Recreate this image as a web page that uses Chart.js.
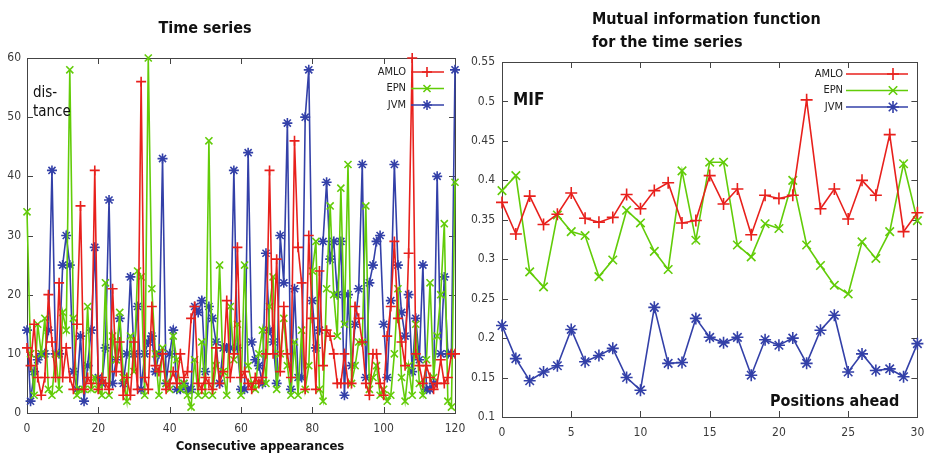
<!DOCTYPE html>
<html>
<head>
<meta charset="utf-8">
<script src="https://cdn.jsdelivr.net/npm/chart.js@4.4.1/dist/chart.umd.min.js"></script>
<style>
    html, body { margin: 0; padding: 0; background: #fff; }
    #wrap { position: relative; width: 925px; height: 454px; overflow: hidden; }
    .box { position: absolute; top: 0; height: 454px; }
    #leftBox { left: 0; width: 472px; }
    #rightBox { left: 462px; width: 463px; }
</style>
</head>
<body>
<div id="wrap">
    <div class="box" id="leftBox"><canvas id="tsChart"></canvas></div>
    <div class="box" id="rightBox"><canvas id="mifChart"></canvas></div>
</div>
<script>
// series names
var seriesNames = ['AMLO', 'EPN', 'JVM'];

// time series (x = 0..120, consecutive appearances)
var amloDist = [11, 8, 15, 6, 3, 6, 20, 12, 6, 22, 6, 11, 6, 4, 15, 35, 4, 6, 5, 41,
    4, 6, 5, 4, 21, 7, 12, 3, 6, 3, 12, 4, 56, 6, 4, 18, 8, 7, 10, 4,
    5, 7, 5, 10, 6, 7, 16, 18, 5, 4, 6, 5, 4, 11, 5, 7, 19, 6, 10, 28,
    6, 7, 5, 4, 6, 5, 6, 10, 41, 10, 26, 7, 18, 10, 6, 46, 28, 22, 4, 30,
    16, 4, 24, 8, 14, 13, 10, 5, 5, 10, 5, 5, 18, 16, 12, 5, 3, 10, 10, 5,
    3, 13, 18, 29, 16, 12, 8, 27, 60, 10, 8, 5, 8, 6, 4, 5, 9, 5, 6, 10, 10];
var epnDist = [34, 10, 3, 15, 10, 16, 4, 3, 10, 4, 17, 14, 58, 16, 3, 4, 4, 18, 4, 6,
    4, 3, 22, 3, 13, 9, 17, 6, 2, 13, 7, 24, 23, 3, 60, 21, 10, 3, 11, 5,
    4, 13, 9, 4, 5, 3, 1, 9, 3, 12, 3, 46, 3, 8, 25, 7, 3, 18, 9, 15,
    3, 25, 8, 5, 4, 10, 14, 5, 18, 23, 4, 10, 16, 8, 3, 12, 3, 14, 4, 8,
    24, 29, 4, 2, 21, 35, 20, 13, 38, 15, 42, 5, 8, 12, 12, 35, 4, 6, 8, 3,
    4, 2, 3, 10, 21, 6, 2, 8, 3, 15, 5, 3, 9, 22, 6, 13, 20, 32, 2, 1, 39];
var jvmDist = [14, 2, 7, 9, 10, 10, 14, 41, 10, 10, 25, 30, 25, 7, 4, 13, 2, 8, 14, 28,
    6, 5, 11, 36, 5, 9, 16, 5, 10, 23, 10, 18, 4, 10, 12, 13, 7, 10, 43, 5,
    10, 14, 4, 4, 5, 4, 4, 18, 17, 19, 7, 18, 16, 12, 5, 11, 11, 11, 41, 11,
    4, 4, 44, 12, 9, 8, 5, 27, 14, 12, 5, 30, 22, 49, 4, 21, 6, 6, 50, 58,
    19, 11, 14, 29, 39, 26, 29, 20, 29, 3, 20, 8, 15, 21, 42, 6, 22, 25, 29, 30,
    15, 6, 19, 42, 25, 17, 13, 20, 7, 16, 9, 25, 4, 4, 5, 40, 10, 23, 10, 10, 58];

// mutual information function (x = 0..30, positions ahead)
var amloMif = [0.372, 0.332, 0.380, 0.344, 0.357, 0.384, 0.352, 0.347, 0.353, 0.382,
    0.364, 0.387, 0.397, 0.346, 0.349, 0.406, 0.370, 0.389, 0.331, 0.381,
    0.377, 0.381, 0.502, 0.364, 0.389, 0.351, 0.400, 0.381, 0.458, 0.335, 0.359];
var epnMif = [0.387, 0.406, 0.284, 0.265, 0.356, 0.335, 0.330, 0.278, 0.299, 0.362,
    0.346, 0.310, 0.287, 0.412, 0.324, 0.423, 0.423, 0.318, 0.303, 0.345,
    0.339, 0.400, 0.318, 0.292, 0.267, 0.256, 0.322, 0.301, 0.335, 0.421, 0.349];
var jvmMif = [0.216, 0.174, 0.146, 0.157, 0.165, 0.211, 0.170, 0.178, 0.187, 0.150,
    0.134, 0.239, 0.168, 0.169, 0.225, 0.201, 0.194, 0.201, 0.153, 0.198,
    0.191, 0.200, 0.168, 0.210, 0.229, 0.157, 0.180, 0.159, 0.161, 0.151, 0.193];

var colors = ['#e8201c', '#62cc08', '#3340a8'];
var markers = ['cross', 'crossRot', 'star'];

var cond = "'DejaVu Sans Condensed', 'DejaVu Sans', sans-serif";

function toPoints(arr) {
    return arr.map(function(v, i) { return { x: i, y: v }; });
}

function makeDatasets(list, radius) {
    return list.map(function(arr, i) {
        return {
            label: seriesNames[i],
            data: toPoints(arr),
            borderColor: colors[i],
            backgroundColor: colors[i],
            borderWidth: 1.6,
            pointStyle: markers[i],
            pointRadius: radius,
            pointBorderWidth: 1.6,
            pointHoverRadius: radius,
            tension: 0,
            clip: false
        };
    });
}

// frame with gnuplot-like inward ticks
var framePlugin = {
    id: 'frame',
    beforeDatasetsDraw: function(chart) {
        var ctx = chart.ctx, a = chart.chartArea;
        var xs = chart.scales.x, ys = chart.scales.y;
        ctx.save();
        ctx.strokeStyle = '#444';
        ctx.lineWidth = 1;
        ctx.strokeRect(Math.round(a.left) + 0.5, Math.round(a.top) + 0.5,
            Math.round(a.right - a.left), Math.round(a.bottom - a.top));
        ctx.beginPath();
        xs.ticks.forEach(function(t) {
            var px = Math.round(xs.getPixelForValue(t.value)) + 0.5;
            ctx.moveTo(px, a.bottom); ctx.lineTo(px, a.bottom - 6);
            ctx.moveTo(px, a.top); ctx.lineTo(px, a.top + 6);
        });
        ys.ticks.forEach(function(t) {
            var py = Math.round(ys.getPixelForValue(t.value)) + 0.5;
            ctx.moveTo(a.left, py); ctx.lineTo(a.left + 6, py);
            ctx.moveTo(a.right, py); ctx.lineTo(a.right - 6, py);
        });
        ctx.stroke();
        ctx.restore();
    }
};

// free text + line/marker legend
var labelPlugin = {
    id: 'labels',
    afterDraw: function(chart, args, opts) {
        var ctx = chart.ctx;
        ctx.save();
        (opts.texts || []).forEach(function(t) {
            ctx.font = t.font;
            ctx.fillStyle = '#111';
            ctx.textAlign = t.align || 'left';
            ctx.textBaseline = 'alphabetic';
            ctx.fillText(t.text, t.x, t.y);
        });
        var lg = opts.legend;
        if (lg) {
            chart.data.datasets.forEach(function(ds, i) {
                var y = lg.y + i * lg.gap;
                ctx.font = "11px " + cond;
                ctx.fillStyle = '#222';
                ctx.textAlign = 'right';
                ctx.textBaseline = 'middle';
                ctx.fillText(ds.label, lg.textRight, y);
                ctx.strokeStyle = ds.borderColor;
                ctx.lineWidth = 1.6;
                ctx.beginPath();
                ctx.moveTo(lg.x1, y); ctx.lineTo(lg.x2, y);
                ctx.stroke();
                Chart.helpers.drawPoint(ctx, {
                    pointStyle: ds.pointStyle, radius: ds.pointRadius, borderWidth: 1.6, rotation: 0
                }, lg.mark, y);
            });
        }
        ctx.restore();
    }
};

function axisOpts(min, max, step, fixed, fmt) {
    return {
        type: 'linear',
        min: min, max: max,
        grid: { display: false, drawTicks: false },
        border: { display: false },
        ticks: {
            stepSize: step,
            color: '#3a3a3a',
            font: { family: cond, size: 12 },
            padding: fixed.pad,
            maxRotation: 0,
            autoSkip: false,
            callback: fmt || function(v) { return v; }
        },
        afterFit: function(s) {
            if (fixed.w) s.width = fixed.w;
            if (fixed.h) s.height = fixed.h;
            s.paddingLeft = 0; s.paddingRight = 0;
            s.paddingTop = 0; s.paddingBottom = 0;
        }
    };
}

Chart.defaults.animation = false;
Chart.defaults.responsive = true;
Chart.defaults.maintainAspectRatio = false;

new Chart(document.getElementById('tsChart').getContext('2d'), {
    type: 'line',
    data: { datasets: makeDatasets([amloDist, epnDist, jvmDist], 5) },
    options: {
        layout: { padding: { top: 58, right: 17, left: 0, bottom: 0 } },
        scales: {
            x: axisOpts(0, 120, 20, { h: 41, pad: 9 }),
            y: axisOpts(0, 60, 10, { w: 27, pad: 6 })
        },
        plugins: {
            legend: { display: false },
            tooltip: { enabled: false },
            labels: {
                texts: [
                    { text: 'Time series', x: 205, y: 33, font: "bold 16px " + cond, align: 'center' },
                    { text: 'Consecutive appearances', x: 260, y: 450, font: "bold 13px " + cond, align: 'center' },
                    { text: 'dis-', x: 33, y: 97, font: "15px " + cond },
                    { text: 'tance', x: 33, y: 116, font: "15px " + cond }
                ],
                legend: { y: 72, gap: 16.5, textRight: 406, x1: 411, x2: 444, mark: 427 }
            }
        }
    },
    plugins: [framePlugin, labelPlugin]
});

new Chart(document.getElementById('mifChart').getContext('2d'), {
    type: 'line',
    data: { datasets: makeDatasets([amloMif, epnMif, jvmMif], 6) },
    options: {
        layout: { padding: { top: 62, right: 7, left: 0, bottom: 0 } },
        scales: {
            x: axisOpts(0, 30, 5, { h: 37, pad: 9 }),
            y: axisOpts(0.1, 0.55, 0.05, { w: 40, pad: 7 }, function(v) { return String(Number(v.toFixed(2))); })
        },
        plugins: {
            legend: { display: false },
            tooltip: { enabled: false },
            labels: {
                texts: [
                    { text: 'Mutual information function', x: 130, y: 24, font: "bold 16px " + cond },
                    { text: 'for the time series', x: 130, y: 47, font: "bold 16px " + cond },
                    { text: 'MIF', x: 51, y: 105, font: "bold 17px " + cond },
                    { text: 'Positions ahead', x: 308, y: 406, font: "bold 16px " + cond }
                ],
                legend: { y: 74, gap: 16.5, textRight: 381, x1: 384, x2: 446, mark: 431 }
            }
        }
    },
    plugins: [framePlugin, labelPlugin]
});
</script>
</body>
</html>
